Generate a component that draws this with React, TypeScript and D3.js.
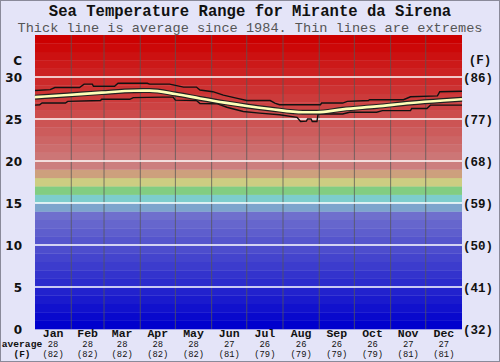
import React from "react";
import * as d3 from "d3";

const W = 500;
const H = 362;

const title = "Sea Temperature Range for Mirante da Sirena";
const subtitle = "Thick line is average since 1984. Thin lines are extremes";

const months = ["Jan", "Feb", "Mar", "Apr", "May", "Jun", "Jul", "Aug", "Sep", "Oct", "Nov", "Dec"];
const monthDays = [31, 28, 31, 30, 31, 30, 31, 31, 30, 31, 30, 31];
const avgC = ["28", "28", "28", "28", "28", "27", "26", "26", "26", "26", "27", "27"];
const avgF = ["(82)", "(82)", "(82)", "(82)", "(82)", "(81)", "(79)", "(79)", "(79)", "(79)", "(81)", "(81)"];

const tickC = [0, 5, 10, 15, 20, 25, 30];
const tickF = ["(32)", "(41)", "(50)", "(59)", "(68)", "(77)", "(86)"];
const gridC = [5, 10, 15, 20, 25, 30];

// extremes and average (day of year -> deg C)
const maxDays = [0, 13, 17, 38, 42, 49, 50, 68, 71, 96, 98, 115, 120, 127, 138, 141, 152, 161, 173, 181, 201, 205, 209, 244, 245, 263, 267, 285, 286, 315, 321, 344, 346, 365];
const maxTemps = [28.4, 28.5, 28.75, 28.75, 29.15, 29.15, 28.9, 28.9, 29.25, 29.25, 29.15, 29.15, 29.0, 28.8, 28.8, 28.45, 28.25, 27.85, 27.45, 27.2, 27.2, 26.9, 26.7, 26.7, 26.9, 26.9, 27.1, 27.2, 27.3, 27.3, 27.65, 27.75, 28.25, 28.3];

const avgDays = [0, 28, 57, 85, 98, 120, 141, 162, 181, 201, 229, 241, 263, 292, 321, 349, 365];
const avgTemps = [27.6, 27.86, 28.14, 28.37, 28.38, 27.98, 27.45, 26.95, 26.55, 26.2, 25.8, 25.8, 26.15, 26.5, 26.9, 27.2, 27.35];

const minDays = [0, 4, 6, 26, 28, 56, 57, 81, 84, 109, 118, 120, 138, 141, 156, 164, 178, 192, 209, 224, 227, 232, 233, 236, 237, 241, 242, 263, 269, 292, 297, 321, 322, 335, 338, 365];
const minTemps = [26.65, 26.7, 26.9, 26.9, 27.1, 27.2, 27.35, 27.35, 27.55, 27.6, 27.6, 27.25, 27.2, 26.85, 26.8, 26.4, 25.9, 25.7, 25.5, 25.2, 24.7, 24.75, 25.0, 25.0, 24.7, 24.7, 25.6, 25.6, 25.8, 25.8, 26.0, 26.0, 26.25, 26.25, 26.65, 26.65];

function bandColor(d: number): string {
  if (d >= 19) {
    const v = Math.round((34 - d) * 8.4);
    return `rgb(204,${v},${v})`;
  }
  if (d === 18) return "rgb(205,160,125)";
  if (d === 17) return "rgb(205,205,130)";
  if (d === 16) return "rgb(130,205,130)";
  if (d === 15) return "rgb(125,205,205)";
  if (d === 14) return "rgb(125,165,205)";
  const v = Math.round(d * 8.5);
  return `rgb(${v},${v},205)`;
}

export default function App() {
  const left = 35, right = 462, top = 35, bottom = 329;
  const x = d3.scaleLinear().domain([0, 365]).range([left, right]);
  const y = d3.scaleLinear().domain([0, 35]).range([bottom, top]);

  const bands = d3.range(0, 35);
  const starts = monthDays.map((_, i) => d3.sum(monthDays.slice(0, i)));

  const mk = (days: number[], temps: number[]) =>
    d3.line<number>().x((_, i) => x(days[i])).y((t) => y(t))(temps) || "";

  const maxPath = mk(maxDays, maxTemps);
  const minPath = mk(minDays, minTemps);
  const avgPath = d3.line<number>().x((_, i) => x(avgDays[i])).y((t) => y(t)).curve(d3.curveMonotoneX)(avgTemps) || "";

  const mono = "'Liberation Mono', 'Courier New', monospace";
  const sans = "'DejaVu Sans', Verdana, sans-serif";

  return (
    <svg width={W} height={H} style={{ position: "absolute", left: 0, top: 0 }}>
      <rect x={0} y={0} width={W} height={H} fill="#e4e4f8" />
      <rect x={0.5} y={0.5} width={W - 1} height={H - 1} fill="none" stroke="#8a8a9a" strokeWidth={1} />
      <text x={W / 2} y={16} textAnchor="middle" fontFamily={mono} fontWeight="bold" fontSize={15.6} fill="#111">{title}</text>
      <text x={W / 2} y={31.5} textAnchor="middle" fontFamily={mono} fontSize={13.6} fill="#555">{subtitle}</text>

      {bands.map((d) => (
        <rect key={d} x={left} y={y(d + 1)} width={right - left} height={y(d) - y(d + 1) + 0.3} fill={bandColor(d)} />
      ))}
      {starts.slice(1).map((s, i) => (
        <line key={i} x1={x(s)} x2={x(s)} y1={top} y2={bottom} stroke="#555" strokeOpacity={0.75} strokeWidth={1} />
      ))}
      {gridC.map((c) => (
        <line key={c} x1={left} x2={right} y1={y(c)} y2={y(c)} stroke="#fff" strokeWidth={1.5} />
      ))}

      <path d={maxPath} fill="none" stroke="#111" strokeWidth={1.4} />
      <path d={minPath} fill="none" stroke="#111" strokeWidth={1.4} />
      <path d={avgPath} fill="none" stroke="#222" strokeWidth={5} />
      <path d={avgPath} fill="none" stroke="#ffffb8" strokeWidth={2.6} />

      <text x={22} y={y(31.9)} textAnchor="end" fontFamily={sans} fontWeight="bold" fontSize={12} fill="#111" dominantBaseline="central">C</text>
      {tickC.map((c) => (
        <text key={c} x={22} y={y(c) + 0.5} textAnchor="end" fontFamily={sans} fontWeight="bold" fontSize={12} fill="#111" dominantBaseline="central">{c}</text>
      ))}
      <text x={480} y={y(31.9)} textAnchor="middle" fontFamily={mono} fontWeight="bold" fontSize={12.5} fill="#111" dominantBaseline="central">(F)</text>
      {tickF.map((f, i) => (
        <text key={f} x={478} y={y(tickC[i]) + 1.5} textAnchor="middle" fontFamily={mono} fontWeight="bold" fontSize={12.5} fill="#111" dominantBaseline="central">{f}</text>
      ))}

      {months.map((m, i) => {
        const cx = x(starts[i] + monthDays[i] / 2);
        return (
          <g key={m}>
            <text x={cx} y={336.5} textAnchor="middle" fontFamily={mono} fontWeight="bold" fontSize={11.5} fill="#111">{m}</text>
            <text x={cx} y={346.8} textAnchor="middle" fontFamily={mono} fontSize={8.8} fill="#111">{avgC[i]}</text>
            <text x={cx} y={356.5} textAnchor="middle" fontFamily={mono} fontSize={8.8} fill="#111">{avgF[i]}</text>
          </g>
        );
      })}
      <text x={22} y={346.8} textAnchor="middle" fontFamily={mono} fontWeight="bold" fontSize={9.6} fill="#111">average</text>
      <text x={22} y={356.5} textAnchor="middle" fontFamily={mono} fontWeight="bold" fontSize={9.4} fill="#111">(F)</text>
    </svg>
  );
}
